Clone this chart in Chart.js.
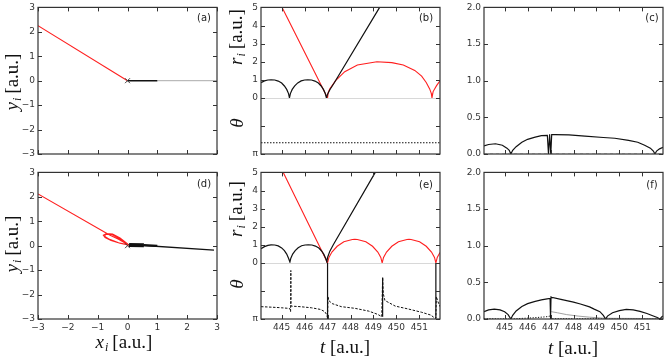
<!DOCTYPE html>
<html>
<head>
<meta charset="utf-8">
<script src="https://cdn.jsdelivr.net/npm/chart.js@4.4.1/dist/chart.umd.min.js"></script>
<style>
  body { margin: 0; background: #fff; width: 664px; height: 358px; overflow: hidden; position: relative; }
  canvas { position: absolute; }
  .lab { position: absolute; font-family: "Liberation Serif", serif; font-size: 19px; color: #111; white-space: nowrap; transform: translate(-50%, -50%); line-height: 1; }
  .rot { transform: translate(-50%, -50%) rotate(-90deg); }
  .lab sub { font-size: 12px; font-style: italic; vertical-align: -3px; margin-left: 1px; margin-right: 4px; }
  .tag { position: absolute; font: 10px "DejaVu Sans"; color: #222; transform: translate(-50%, -50%); }
</style>
</head>
<body>
<canvas id="pa"></canvas>
<canvas id="pb"></canvas>
<canvas id="pc"></canvas>
<canvas id="pd"></canvas>
<canvas id="pe"></canvas>
<canvas id="pf"></canvas>

<div class="lab rot" style="left:12px;top:82px"><i>y</i><sub>i</sub>[a.u.]</div>
<div class="lab rot" style="left:12px;top:244px"><i>y</i><sub>i</sub>[a.u.]</div>
<div class="lab rot" style="left:236px;top:37px"><i>r</i><sub>i</sub>[a.u.]</div>
<div class="lab rot" style="left:236px;top:123px"><i>θ</i></div>
<div class="lab rot" style="left:236px;top:209px"><i>r</i><sub>i</sub>[a.u.]</div>
<div class="lab rot" style="left:236px;top:284px"><i>θ</i></div>
<div class="lab" style="left:124px;top:342px"><i>x</i><sub>i</sub>[a.u.]</div>
<div class="lab" style="left:345px;top:346px"><i>t</i> [a.u.]</div>
<div class="lab" style="left:573px;top:347px"><i>t</i> [a.u.]</div>

<div class="tag" style="left:204px;top:17px">(a)</div>
<div class="tag" style="left:426px;top:17px">(b)</div>
<div class="tag" style="left:652px;top:17px">(c)</div>
<div class="tag" style="left:204px;top:183px">(d)</div>
<div class="tag" style="left:426px;top:184px">(e)</div>
<div class="tag" style="left:652px;top:184px">(f)</div>

<script>
// tick values
const xyTicks = [-3, -2, -1, 0, 1, 2, 3];
const tTicks = [445, 446, 447, 448, 449, 450, 451];
const rTicks = [0, 1, 2, 3, 4, 5];
const thetaTicks = [0, 0.5, 1];          // theta in units of pi
const eTicks = [0, 0.5, 1, 1.5, 2];
const tMin = 444.1, tMax = 451.9;

// (a) trajectories
const aRedX = [-3, 0],  aRedY = [2.25, 0];
const aBlackX = [0, 1], aBlackY = [0, 0];
const aGreyX = [1, 3],  aGreyY = [0, 0];
const startX = [0], startY = [0];

// (d) trajectories
const dRedX = [-3, -0.6, -0.3, 0.05, -0.25, -0.55, -0.75, -0.81, -0.7, -0.5, -0.25, 0.05, -0.3, -0.6, -0.76, -0.74, -0.52, -0.27, 0.03];
const dRedY = [2.12, 0.44, 0.26, 0.02, 0.1, 0.21, 0.33, 0.43, 0.5, 0.48, 0.32, 0.03, 0.12, 0.26, 0.38, 0.47, 0.46, 0.29, 0.02];
const dBandX = [0.05, 0.55], dBandY = [0.03, 0.02];
const dTailX = [0.55, 1.0],  dTailY = [0.02, -0.01];
const dBlackX = [0.05, 2.9], dBlackY = [0.05, -0.18];

// (b) r_i(t) and theta(t)
const bBlackT = [444.1, 444.25, 444.4, 444.54, 444.7, 444.85, 445.0, 445.12, 445.22, 445.3, 445.34, 445.38, 445.46, 445.57, 445.7, 445.85, 446.0, 446.14, 446.3, 446.45, 446.6, 446.72, 446.82, 446.9, 446.95, 447.0, 447.1, 447.3, 449.27];
const bBlackR = [0.84, 0.94, 0.99, 1.0, 0.99, 0.93, 0.82, 0.66, 0.47, 0.24, 0.0, 0.24, 0.47, 0.67, 0.83, 0.94, 0.99, 1.0, 0.99, 0.93, 0.82, 0.66, 0.47, 0.24, 0.0, 0.2, 0.45, 0.85, 5.0];
const bRedT = [445.02, 446.85, 446.95, 447.0, 447.03, 447.1, 447.35, 447.75, 448.3, 449.15, 449.8, 450.3, 450.8, 451.1, 451.3, 451.45, 451.52, 451.55, 451.6, 451.75, 451.9];
const bRedR = [5.0, 0.38, 0.12, 0.0, 0.3, 0.5, 0.95, 1.45, 1.82, 2.0, 1.95, 1.82, 1.52, 1.2, 0.85, 0.5, 0.25, 0.0, 0.35, 0.68, 0.95];
const bThetaT = [444.1, 451.9], bTheta = [0.8, 0.8];

// (e) r_i(t) and theta(t)
const eBlackT = [444.1, 444.25, 444.4, 444.54, 444.7, 444.85, 445.0, 445.12, 445.22, 445.3, 445.36, 445.4, 445.48, 445.59, 445.72, 445.87, 446.02, 446.16, 446.32, 446.47, 446.62, 446.74, 446.84, 446.92, 446.97, 447.0, 447.1, 447.25, 449.08];
const eBlackR = [0.78, 0.9, 0.97, 1.0, 0.99, 0.94, 0.83, 0.68, 0.49, 0.26, 0.05, 0.26, 0.49, 0.68, 0.84, 0.95, 0.99, 1.0, 0.99, 0.93, 0.82, 0.66, 0.47, 0.24, 0.05, 0.3, 0.65, 1.0, 5.0];
const eRedT = [445.07, 446.85, 446.95, 447.0, 447.06, 447.19, 447.42, 447.71, 448.08, 448.19, 448.3, 448.67, 448.96, 449.19, 449.32, 449.38, 449.44, 449.57, 449.8, 450.09, 450.46, 450.55, 450.64, 451.01, 451.3, 451.53, 451.66, 451.72, 451.78, 451.9];
const eRedR = [5.0, 0.39, 0.13, 0.0, 0.3, 0.6, 0.92, 1.17, 1.29, 1.3, 1.29, 1.17, 0.92, 0.6, 0.3, 0.0, 0.3, 0.6, 0.92, 1.17, 1.29, 1.3, 1.29, 1.17, 0.92, 0.6, 0.3, 0.0, 0.3, 0.58];
const eThetaT = [444.1, 444.6, 445.0, 445.3, 445.37, 445.39, 445.4, 445.41, 445.8, 446.3, 446.7, 446.88, 446.96, 447.0, 447.02, 447.05, 447.2, 447.6, 448.2, 448.8, 449.2, 449.36, 449.4, 449.43, 449.5, 449.95, 450.5, 451.1, 451.5, 451.66, 451.72, 451.74, 451.8, 451.9];
const eTheta = [0.78, 0.79, 0.8, 0.81, 0.82, 0.87, 0.135, 0.77, 0.78, 0.8, 0.83, 0.87, 0.92, 0.98, 0.6, 0.67, 0.725, 0.78, 0.81, 0.86, 0.92, 0.96, 0.26, 0.55, 0.67, 0.77, 0.82, 0.88, 0.93, 0.98, 0.99, 0.6, 0.68, 0.78];
const eJumpT = [447.0, 449.4, 451.72];
const eJumpFrom = [0, 0.26, 0];
const eJumpTo = [1, 0.96, 0.99];

// (c)
const cT = [444.1, 444.3, 444.6, 444.9, 445.1, 445.2, 445.27, 445.35, 445.5, 445.75, 446.0, 446.33, 446.6, 446.86, 446.91, 446.96, 447.01, 447.05, 447.2, 447.8, 448.5, 449.3, 449.8, 450.4, 450.8, 451.1, 451.35, 451.48, 451.55, 451.62, 451.75, 451.9];
const cV = [0.11, 0.13, 0.14, 0.12, 0.08, 0.05, 0.0, 0.05, 0.1, 0.16, 0.2, 0.23, 0.25, 0.255, 0.0, 0.27, 0.0, 0.265, 0.265, 0.26, 0.245, 0.225, 0.215, 0.185, 0.16, 0.12, 0.08, 0.04, 0.0, 0.04, 0.07, 0.09];
const cZeroT = [444.1, 451.9], cZero = [0, 0];

// (f)
const fT = [444.1, 444.3, 444.55, 444.8, 445.0, 445.15, 445.27, 445.35, 445.5, 445.75, 446.0, 446.33, 446.6, 446.85, 446.98, 447.0, 447.02, 447.05, 447.5, 448.0, 448.3, 448.7, 448.9, 449.15, 449.3, 449.4, 449.48, 449.7, 450.0, 450.3, 450.6, 450.9, 451.2, 451.45, 451.65, 451.77, 451.83, 451.9];
const fV = [0.1, 0.125, 0.135, 0.125, 0.1, 0.06, 0.0, 0.05, 0.11, 0.17, 0.21, 0.24, 0.26, 0.275, 0.28, 0.0, 0.3, 0.295, 0.265, 0.23, 0.205, 0.165, 0.135, 0.1, 0.05, 0.0, 0.04, 0.085, 0.115, 0.13, 0.125, 0.105, 0.075, 0.045, 0.02, 0.0, 0.025, 0.04];
const fDotT = [444.1, 445.3, 445.6, 446.0, 446.4, 446.8, 446.98, 447.02, 449.0, 451.9];
const fDot = [0.005, 0.0, 0.006, 0.012, 0.02, 0.03, 0.04, 0.005, 0.003, 0.003];
const fGreyT = [447.03, 447.3, 447.7, 448.2, 448.7, 449.35, 451.9];
const fGrey = [0.1, 0.085, 0.06, 0.04, 0.025, 0.01, 0.005];

const RED = '#ff1f1f', BLACK = '#111', GREY = '#aaa';
Chart.defaults.font.family = 'DejaVu Sans';
Chart.defaults.font.size = 9;
Chart.defaults.color = '#333';

const minus = v => (v < 0 ? '\u2212' + Math.abs(v) : String(v));

function lineSet(xs, ys, color, width, extra) {
  return Object.assign({
    data: xs.map((x, i) => ({x: x, y: ys[i]})),
    showLine: true, borderColor: color, backgroundColor: color,
    borderWidth: width, pointRadius: 0, tension: 0, fill: false
  }, extra || {});
}

function axis(ticks, fmt, show, extra) {
  return Object.assign({
    type: 'linear',
    afterBuildTicks: s => { s.ticks = ticks.map(v => ({value: v})); },
    ticks: {display: show, padding: 3, callback: fmt, autoSkip: false, maxRotation: 0},
    grid: {display: false, drawTicks: false},
    border: {display: false}
  }, extra);
}
const xFit = s => { s.height = 16; };
const yFit = s => { s.width = 40; };

// frame with inward ticks, like the original figure
const frame = {
  id: 'frame',
  beforeDatasetsDraw(chart, args, opts) {
    if (!opts.zero) return;
    const {ctx, chartArea: a} = chart;
    const y = Math.round(chart.scales.y.getPixelForValue(0)) + 0.5;
    ctx.save();
    ctx.strokeStyle = '#d8d8d8'; ctx.lineWidth = 1;
    ctx.beginPath(); ctx.moveTo(a.left, y); ctx.lineTo(a.right, y); ctx.stroke();
    ctx.restore();
  },
  afterDatasetsDraw(chart) {
    const {ctx, chartArea: a, scales} = chart;
    ctx.save();
    ctx.strokeStyle = '#333'; ctx.lineWidth = 1;
    ctx.beginPath();
    Object.values(scales).forEach(s => {
      s.ticks.forEach(t => {
        const p = Math.round(s.getPixelForValue(t.value)) + 0.5;
        if (s.isHorizontal()) {
          ctx.moveTo(p, a.top); ctx.lineTo(p, a.top + 4);
          ctx.moveTo(p, a.bottom); ctx.lineTo(p, a.bottom - 4);
        } else {
          ctx.moveTo(a.left, p); ctx.lineTo(a.left + 4, p);
          ctx.moveTo(a.right, p); ctx.lineTo(a.right - 4, p);
        }
      });
    });
    ctx.stroke();
    ctx.lineWidth = 1.2;
    ctx.strokeRect(a.left, a.top, a.width, a.height);
    ctx.restore();
  }
};

function makeChart(id, box, scales, datasets, zero) {
  const c = document.getElementById(id);
  c.width = box.r - box.l + 46;
  c.height = box.b - box.t + 22;
  c.style.left = (box.l - 40) + 'px';
  c.style.top = (box.t - 6) + 'px';
  return new Chart(c, {
    type: 'scatter',
    data: {datasets: datasets},
    options: {
      responsive: false, animation: false, events: [],
      layout: {padding: {top: 6, right: 6, left: 0, bottom: 0}},
      plugins: {legend: {display: false}, tooltip: {enabled: false}, frame: {zero: !!zero}},
      scales: scales
    },
    plugins: [frame]
  });
}

function xyScales(showX) {
  return {
    x: axis(xyTicks, minus, showX, {min: -3, max: 3, afterFit: xFit}),
    y: axis(xyTicks, minus, true, {min: -3, max: 3, afterFit: yFit})
  };
}
function rtScales(showX) {
  return {
    x: axis(tTicks, v => String(v), showX, {min: tMin, max: tMax, afterFit: xFit}),
    y: axis(rTicks, v => String(v), true, {min: 0, max: 5, afterFit: yFit, position: 'left', stack: 'rt', stackWeight: 92, weight: 1}),
    th: axis(thetaTicks, v => (v === 1 ? '\u03c0' : ''), true, {min: 0, max: 1, reverse: true, afterFit: yFit, position: 'left', stack: 'rt', stackWeight: 57, weight: 0})
  };
}
function eScales(showX) {
  return {
    x: axis(tTicks, v => String(v), showX, {min: tMin, max: tMax, afterFit: xFit}),
    y: axis(eTicks, v => v.toFixed(1), true, {min: 0, max: 2, afterFit: yFit})
  };
}
function startMark() {
  return lineSet(startX, startY, '#444', 1, {showLine: false, pointRadius: 3.5, pointStyle: 'crossRot', pointBorderWidth: 1});
}

makeChart('pa', {l: 38, t: 5, r: 217, b: 154}, xyScales(false), [
  startMark(),
  lineSet(aBlackX, aBlackY, BLACK, 1.4),
  lineSet(aRedX, aRedY, RED, 1.1),
  lineSet(aGreyX, aGreyY, GREY, 1)
]);

makeChart('pd', {l: 38, t: 170, r: 217, b: 319}, xyScales(true), [
  startMark(),
  lineSet(dBandX, dBandY, BLACK, 4),
  lineSet(dTailX, dTailY, BLACK, 2.2),
  lineSet(dBlackX, dBlackY, BLACK, 1.3),
  lineSet(dRedX, dRedY, RED, 1.1)
]);

makeChart('pb', {l: 261, t: 5, r: 440, b: 154}, rtScales(false), [
  lineSet(bBlackT, bBlackR, BLACK, 1.2),
  lineSet(bRedT, bRedR, RED, 1.1),
  lineSet(bThetaT, bTheta, BLACK, 1.1, {yAxisID: 'th', borderDash: [1.5, 1.5]})
], true);

const eJumps = eJumpT.map((t, i) => lineSet([t, t], [eJumpFrom[i], eJumpTo[i]], BLACK, 1.2, {yAxisID: 'th'}));
makeChart('pe', {l: 261, t: 170, r: 440, b: 319}, rtScales(true), [
  lineSet(eBlackT, eBlackR, BLACK, 1.2),
  lineSet(eRedT, eRedR, RED, 1.1),
  ...eJumps,
  lineSet(eThetaT, eTheta, BLACK, 1, {yAxisID: 'th', borderDash: [2.5, 1.5]})
], true);

makeChart('pc', {l: 484, t: 5, r: 663, b: 154}, eScales(false), [
  lineSet(cT, cV, BLACK, 1.2),
  lineSet(cZeroT, cZero, GREY, 1, {borderDash: [3, 3]})
]);

makeChart('pf', {l: 484, t: 170, r: 663, b: 319}, eScales(true), [
  lineSet(fT, fV, BLACK, 1.2),
  lineSet(fGreyT, fGrey, '#888', 0.8),
  lineSet(fDotT, fDot, BLACK, 1, {borderDash: [1.2, 1.5]})
]);
</script>
</body>
</html>
